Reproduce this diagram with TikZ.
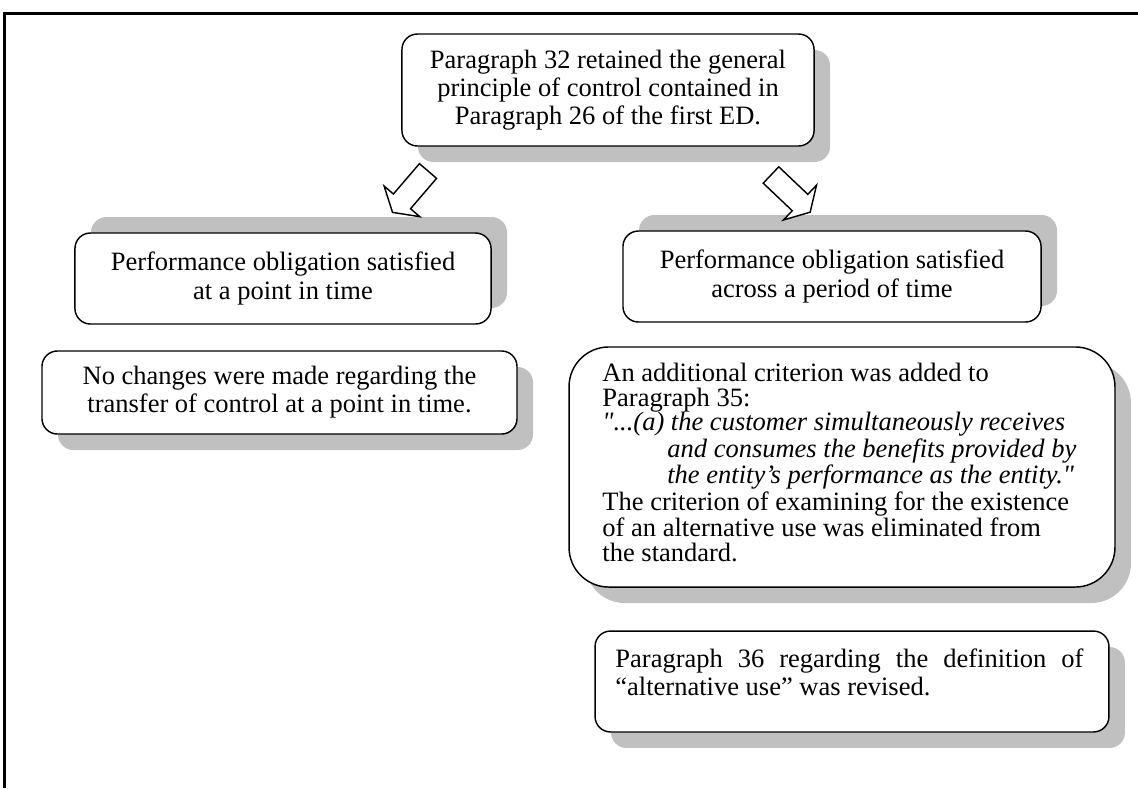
\documentclass[tikz,border=0pt]{standalone}
\usepackage{fontspec}
\setmainfont{Liberation Serif}[Ligatures=TeXOff]
\usetikzlibrary{shadows}
\definecolor{shade}{HTML}{C0C0C0}
\begin{document}
\begin{tikzpicture}[x=0.4528pt, y=-0.4528pt,
  card/.style={draw=black, line width=0.65pt, fill=white, rounded corners=7pt,
    inner sep=0pt, font=\fontsize{12}{12.7}\selectfont},
  shadeSE/.style={drop shadow={shadow xshift=7.25pt, shadow yshift=-7.25pt, fill=shade, opacity=1}},
  shadeNE/.style={drop shadow={shadow xshift=7.25pt, shadow yshift=7.25pt, fill=shade, opacity=1}},
  hollow/.style={draw=black, line width=0.65pt, fill=white, line join=miter}]
\useasboundingbox (0,0) rectangle (1138,788);

% page frame (top and left rules)
\draw[line width=1.1pt] (4.5,788) -- (4.5,13.5) -- (1138,13.5);

% top statement
\node[card, shadeSE, minimum width=186.6pt, minimum height=50.7pt, align=center]
  (top) at (608,90)
  {Paragraph 32 retained the general\\principle of control contained in\\Paragraph 26 of the first ED.};

% the two kinds of performance obligation
\node[card, shadeNE, minimum width=188.4pt, minimum height=41.2pt, align=center]
  (point) at (283,278.5)
  {Performance obligation satisfied\\at a point in time};
\node[card, shadeNE, minimum width=189.3pt, minimum height=41.2pt, align=center]
  (period) at (832,276.5)
  {Performance obligation satisfied\\across a period of time};

% consequences
\node[card, shadeSE, minimum width=215.1pt, minimum height=37.6pt, align=center]
  (nochange) at (279.5,392.5)
  {No changes were made regarding the\\transfer of control at a point in time.};

\node[card, shadeSE, rounded corners=18pt, minimum width=247.2pt, minimum height=108.7pt]
  (criterion) at (842,467) {};
\node[anchor=north west, inner sep=0pt, align=left,
  font=\fontsize{12}{11}\selectfont] (crittext) at (602,363)
  {An additional criterion was added to\\
   Paragraph 35:\\
   \textit{"...(a) the customer simultaneously receives}\\
   \hspace*{2.45em}\textit{and consumes the benefits provided by}\\
   \hspace*{2.45em}\textit{the entity’s performance as the entity."}\\
   The criterion of examining for the existence\\
   of an alternative use was eliminated from\\
   the standard.};

\node[card, shadeSE, minimum width=232.7pt, minimum height=45.7pt]
  (altuse) at (852,681.5) {};
\node[anchor=north west, inner sep=0pt, align=left,
  font=\fontsize{12}{12.7}\selectfont] (alttext) at (615,648)
  {\hbox to 211.9pt{Paragraph\hfill 36\hfill regarding\hfill the\hfill definition\hfill of}\\
   “alternative use” was revised.};

% hollow block arrows from the top statement
\coordinate (ltail) at (428,171);
\coordinate (rtail) at (771,175);
\begin{scope}[shift={(ltail)}, rotate=229.4]
  \draw[hollow] (0,11.3) -- (40,11.3) -- (40,23.5) -- (54.5,0)
    -- (40,-23.5) -- (40,-11.3) -- (0,-11.3) -- cycle;
\end{scope}
\begin{scope}[shift={(rtail)}, rotate=-43.5]
  \draw[hollow] (0,11.3) -- (40,11.3) -- (40,24) -- (54,0)
    -- (40,-24) -- (40,-11.3) -- (0,-11.3) -- cycle;
\end{scope}
\end{tikzpicture}
\end{document}
